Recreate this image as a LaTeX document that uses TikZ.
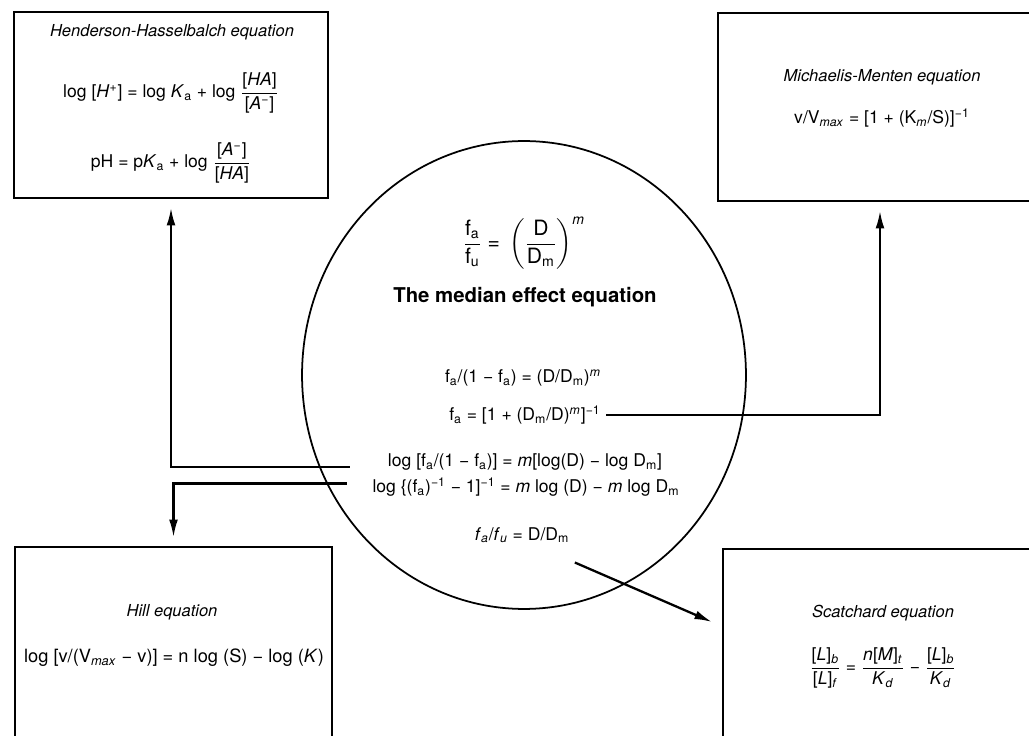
\documentclass[tikz,border=0pt]{standalone}
\usepackage{amsmath}
\usepackage{fontspec}
\setmainfont{TeX Gyre Heros}
\usetikzlibrary{arrows.meta,positioning}
\newcommand{\sbs}[1]{\textsubscript{#1}}
\newcommand{\sps}[1]{\textsuperscript{#1}}

\begin{document}
\begin{tikzpicture}[x=0.02cm, y=-0.02cm,
  box/.style={draw, line width=1.1pt, inner sep=0pt},
  ttl/.style={font=\fontsize{9.4}{11}\selectfont\itshape},
  eqn/.style={font=\fontsize{10}{12}\selectfont, inner sep=3pt},
  arr/.style={-{Latex[length=10pt,width=5pt]}, line width=1.3pt}]
\clip (0,0) rectangle (1029,736);
% the four boxes
\node[box, minimum width=6.28cm, minimum height=3.72cm] (hh) at (171,105) {};
\node[box, minimum width=6.48cm, minimum height=3.76cm] (mm) at (880,107) {};
\node[box, minimum width=6.34cm, minimum height=4.26cm] (hill) at (173.5,653.5) {};
\node[box, minimum width=6.44cm, minimum height=4.22cm] (sc) at (884,654.5) {};
\node[ttl] (hht) at (172,32) {Henderson-Hasselbalch equation};
\node[eqn] (hh1) at (171,93) {log [\textit{H}\sps{+}] = log \textit{K}\sbs{a} + log
  $\dfrac{\text{[\textit{HA}]}}{\text{[\textit{A}\sps{−}]}}$};
\node[eqn] (hh2) at (171,163) {pH = p\textit{K}\sbs{a} + log
  $\dfrac{\text{[\textit{A}\sps{−}]}}{\text{[\textit{HA}]}}$};
\node[ttl] (mmt) at (882,77) {Michaelis-Menten equation};
\node[eqn] (mm1) at (882,118) {v/V\sbs{\textit{max}} = [1 + (K\sbs{\textit{m}}/S)]\sps{−1}};
\node[ttl] (hlt) at (172,612) {Hill equation};
\node[eqn, font=\fontsize{10.4}{12}\selectfont] (hl1) at (174,658)
  {log [v/(V\sbs{\textit{max}} − v)] = n log (S) − log (\textit{K})};
\node[ttl] (sct) at (883,613) {Scatchard equation};
\node[eqn] (sc1) at (883,668) {$\dfrac{\text{[\textit{L}]\sbs{\textit{b}}}}{\text{[\textit{L}]\sbs{\textit{f}}}}
  \text{ = }\dfrac{\text{\textit{n}[\textit{M}]\sbs{\textit{t}}}}{\text{\textit{K}\sbs{\textit{d}}}}
  \text{ − }\dfrac{\text{[\textit{L}]\sbs{\textit{b}}}}{\text{\textit{K}\sbs{\textit{d}}}}$};
% the circle
\draw[line width=1pt] (524,375) ellipse [x radius=4.44cm, y radius=4.68cm];
\node[font=\fontsize{12}{14}\selectfont] (me) at (524,243)
  {$\dfrac{\text{f\sbs{a}}}{\text{f\sbs{u}}}\text{ = }\left(\dfrac{\text{D}}{\text{D\sbs{m}}}\right)^{\text{\textit{m}}}$};
\node[font=\fontsize{11.6}{14}\selectfont\bfseries] (met) at (525,297) {The median effect equation};
\node[eqn] (e1) at (523,378) {f\sbs{a}/(1 − f\sbs{a}) = (D/D\sbs{m})\sps{\textit{m}}};
\node[eqn] (fa) at (525,415) {f\sbs{a} = [1 + (D\sbs{m}/D)\sps{\textit{m}}]\sps{−1}};
\node[eqn] (lg1) at (525,462) {log [f\sbs{a}/(1 − f\sbs{a})] = \textit{m}[log(D) − log D\sbs{m}]};
\node[eqn] (lg2) at (526,487) {log \{(f\sbs{a})\sps{−1} − 1]\sps{−1} = \textit{m} log (D) − \textit{m} log D\sbs{m}};
\node[eqn] (fu) at (522,535) {\textit{f}\sbs{\textit{a}}/\textit{f}\sbs{\textit{u}} = D/D\sbs{m}};
\coordinate (sctip) at (712,622);
% connectors
\draw[arr, shorten >=5pt] ([xshift=-0.65cm, yshift=-3pt]lg1.west) -| (hh.south);
\draw[arr, shorten >=5pt] ([xshift=-0.4cm, yshift=2pt]lg2.west) -| (hill.north);
\draw[arr, shorten >=5pt] (fa.east) -| (mm.south);
\draw[arr] ([yshift=-8pt]fu.south east) -- (sctip);
\end{tikzpicture}
\end{document}
